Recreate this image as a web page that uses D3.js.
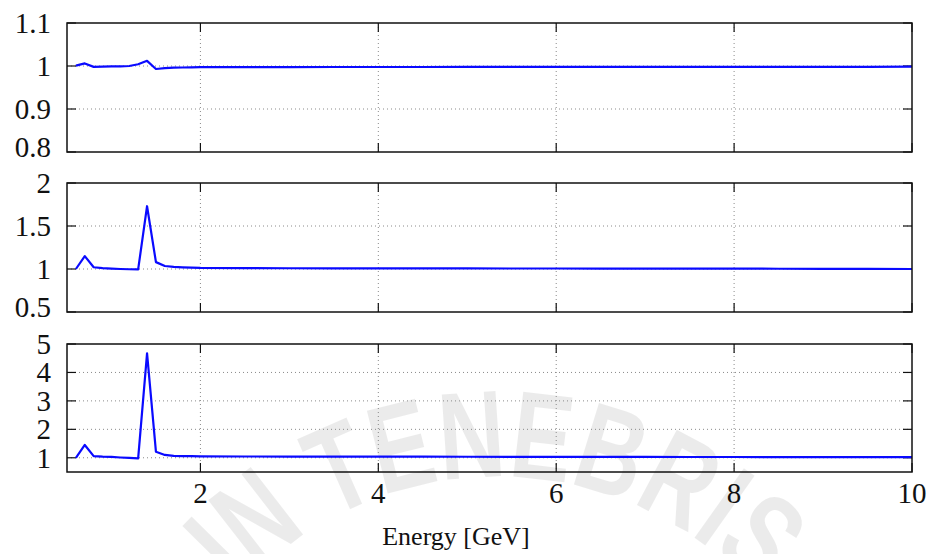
<!DOCTYPE html>
<html>
<head>
<meta charset="utf-8">
<script src="https://cdn.jsdelivr.net/npm/d3@7"></script>
<style>
  html, body { margin: 0; padding: 0; background: #fff; }
  svg { display: block; }
  .tick-label { font-family: "Liberation Serif", "Times New Roman", serif; font-size: 29px; fill: #111; }
  .axis-title { font-family: "Liberation Serif", "Times New Roman", serif; font-size: 26px; fill: #111; }
</style>
</head>
<body>
<svg id="chart" width="931" height="554"></svg>
<script>
// Beam energy grid (GeV)
const energy = [0.6, 0.7, 0.8, 0.9, 1.0, 1.1, 1.2, 1.3, 1.4, 1.5, 1.6, 1.7, 1.8, 1.9, 2.0,
                2.5, 3.0, 3.5, 4.0, 4.5, 5.0, 5.5, 6.0, 6.5, 7.0, 7.5, 8.0, 8.5, 9.0, 9.5, 10.0];

// Ratio curves, one per panel (top to bottom)
const ratioTop = [1.001, 1.006, 0.998, 0.9985, 0.999, 0.9993, 1.000, 1.004, 1.012, 0.993, 0.995, 0.996, 0.9965, 0.997, 0.9972,
                  0.9975, 0.9976, 0.9977, 0.9977, 0.9977, 0.9978, 0.9978, 0.9978, 0.9978, 0.9978, 0.9978, 0.9978, 0.9978, 0.9979, 0.9980, 0.9985];
const ratioMid = [1.000, 1.150, 1.020, 1.010, 1.005, 1.000, 0.997, 0.995, 1.730, 1.080, 1.035, 1.025, 1.020, 1.015, 1.012,
                  1.010, 1.009, 1.008, 1.008, 1.007, 1.007, 1.006, 1.006, 1.005, 1.005, 1.004, 1.004, 1.003, 1.002, 1.001, 1.000];
const ratioBot = [1.000, 1.450, 1.060, 1.040, 1.030, 1.010, 0.995, 0.980, 4.670, 1.210, 1.100, 1.070, 1.060, 1.055, 1.050,
                  1.045, 1.042, 1.040, 1.040, 1.038, 1.037, 1.035, 1.034, 1.032, 1.030, 1.028, 1.027, 1.025, 1.023, 1.021, 1.020];

// Axis ticks
const xTicks = [2, 4, 6, 8, 10];
const yTicksTop = [0.8, 0.9, 1, 1.1];
const yTicksMid = [0.5, 1, 1.5, 2];
const yTicksBot = [1, 2, 3, 4, 5];

const xLabel = "Energy [GeV]";

const svg = d3.select("#chart");
const left = 67, right = 912;

const x = d3.scaleLinear().domain([0.5, 10]).range([left, right]);

// Watermark lettering set on an arc behind the plots
const wm = svg.append("g").attr("class", "watermark");
const arcCx = 497, arcCy = 827, arcR = 350;
wm.append("path")
  .attr("id", "wmArc")
  .attr("fill", "none")
  .attr("d", `M ${arcCx - arcR},${arcCy} A ${arcR},${arcR} 0 0 1 ${arcCx + arcR},${arcCy}`);
wm.append("text")
  .attr("font-family", "'Liberation Sans', Arial, sans-serif")
  .attr("font-weight", "bold")
  .attr("font-size", 124)
  .attr("fill", "#000")
  .attr("fill-opacity", 0.08)
  .append("textPath")
  .attr("href", "#wmArc")
  .attr("startOffset", "50%")
  .attr("text-anchor", "middle")
  .attr("textLength", 580)
  .attr("lengthAdjust", "spacingAndGlyphs")
  .text("IN TENEBRIS");

const panels = [
  {top: 23,  bottom: 152, domain: [0.8, 1.1], ticks: yTicksTop, values: ratioTop, showX: false},
  {top: 183, bottom: 312, domain: [0.5, 2],   ticks: yTicksMid, values: ratioMid, showX: false},
  {top: 344, bottom: 472, domain: [0.5, 5],   ticks: yTicksBot, values: ratioBot, showX: true}
];

const tickLen = 9;

panels.forEach(p => {
  const y = d3.scaleLinear().domain(p.domain).range([p.bottom, p.top]);
  const g = svg.append("g");

  // Dotted grid
  const yGrid = p.ticks.filter(t => t > p.domain[0] && t < p.domain[1]);
  g.selectAll(".hgrid").data(yGrid).join("line")
    .attr("x1", left).attr("x2", right)
    .attr("y1", d => y(d)).attr("y2", d => y(d))
    .attr("stroke", "#8a8a8a").attr("stroke-width", 1).attr("stroke-dasharray", "1,3");
  const xGrid = xTicks.filter(t => t > x.domain()[0] && t < x.domain()[1]);
  g.selectAll(".vgrid").data(xGrid).join("line")
    .attr("x1", d => x(d)).attr("x2", d => x(d))
    .attr("y1", p.top).attr("y2", p.bottom)
    .attr("stroke", "#8a8a8a").attr("stroke-width", 1).attr("stroke-dasharray", "1,3");

  // Inward ticks on all four sides
  g.selectAll(".ytl").data(p.ticks).join("line")
    .attr("x1", left).attr("x2", left + tickLen)
    .attr("y1", d => y(d)).attr("y2", d => y(d))
    .attr("stroke", "#111").attr("stroke-width", 1.2);
  g.selectAll(".ytr").data(p.ticks).join("line")
    .attr("x1", right - tickLen).attr("x2", right)
    .attr("y1", d => y(d)).attr("y2", d => y(d))
    .attr("stroke", "#111").attr("stroke-width", 1.2);
  g.selectAll(".xtb").data(xTicks).join("line")
    .attr("x1", d => x(d)).attr("x2", d => x(d))
    .attr("y1", p.bottom).attr("y2", p.bottom - tickLen)
    .attr("stroke", "#111").attr("stroke-width", 1.2);
  g.selectAll(".xtt").data(xTicks).join("line")
    .attr("x1", d => x(d)).attr("x2", d => x(d))
    .attr("y1", p.top).attr("y2", p.top + tickLen)
    .attr("stroke", "#111").attr("stroke-width", 1.2);

  // Curve
  const line = d3.line()
    .x((d, i) => x(energy[i]))
    .y(d => y(d));
  g.append("path")
    .datum(p.values)
    .attr("fill", "none")
    .attr("stroke", "#0a0aff")
    .attr("stroke-width", 2.2)
    .attr("stroke-linejoin", "round")
    .attr("d", line);

  // Frame
  g.append("rect")
    .attr("x", left).attr("y", p.top)
    .attr("width", right - left).attr("height", p.bottom - p.top)
    .attr("fill", "none").attr("stroke", "#111").attr("stroke-width", 1.5);

  // Y tick labels
  g.selectAll(".ylab").data(p.ticks).join("text")
    .attr("class", "tick-label")
    .attr("x", left - 16)
    .attr("y", d => y(d) + 10 - (d === p.domain[0] ? 5 : 0))
    .attr("text-anchor", "end")
    .text(d => String(d));

  if (p.showX) {
    g.selectAll(".xlab").data(xTicks).join("text")
      .attr("class", "tick-label")
      .attr("x", d => x(d))
      .attr("y", p.bottom + 31)
      .attr("text-anchor", "middle")
      .text(d => String(d));
    svg.append("text")
      .attr("class", "axis-title")
      .attr("x", 456)
      .attr("y", 545)
      .attr("text-anchor", "middle")
      .text(xLabel);
  }
});
</script>
</body>
</html>
